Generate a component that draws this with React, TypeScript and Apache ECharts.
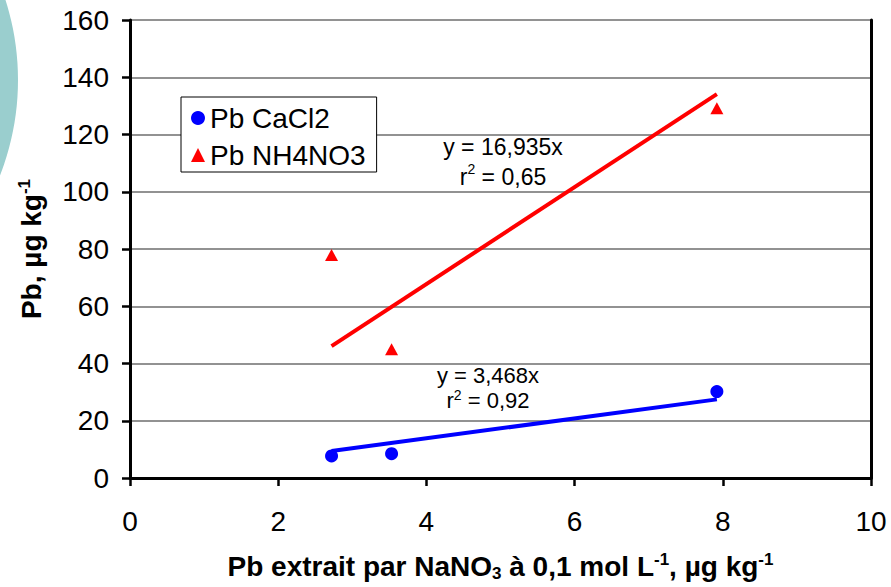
import React, { useEffect, useRef } from "react";
import * as echarts from "echarts";

// Measured data points (x: Pb extrait par NaNO3, y: Pb)
const xCaCl2 = [2.72, 3.53, 7.92];
const yCaCl2 = [7.7, 8.5, 30.2];
const xNH4NO3 = [2.72, 3.53, 7.92];
const yNH4NO3 = [77.9, 45.0, 129.2];

// Trend line slopes (y = a·x) as printed on the chart
const slopeCaCl2 = 3.468;
const slopeNH4NO3 = 16.935;

const seriesNames = ["Pb CaCl2", "Pb NH4NO3"];
const eqCaCl2 = ["y = 3,468x", "0,92"];
const eqNH4NO3 = ["y = 16,935x", "0,65"];

const FONT = "'Liberation Sans', Arial, Helvetica, sans-serif";

function trend(xs: number[], a: number): number[][] {
  const lo = Math.min(...xs);
  const hi = Math.max(...xs);
  return [
    [lo, a * lo],
    [hi, a * hi],
  ];
}

export default function App() {
  const ref = useRef<HTMLDivElement>(null);

  useEffect(() => {
    if (!ref.current) return;
    const chart = echarts.init(ref.current, undefined, { renderer: "svg" });

    const titleRich = (size: number) => ({
      b: { fontSize: size, fontWeight: "bold", fontFamily: FONT, color: "#000", lineHeight: size + 3 },
      sup: { fontSize: 17, fontWeight: "bold", fontFamily: FONT, color: "#000", lineHeight: 12, verticalAlign: "top" },
      sub: { fontSize: 17, fontWeight: "bold", fontFamily: FONT, color: "#000", lineHeight: 13, verticalAlign: "bottom" },
    });

    const eqRich = (color: string, lh: number, fs: number) => ({
      a: { fontSize: fs, fontFamily: FONT, color, lineHeight: lh },
      s: { fontSize: 14, fontFamily: FONT, color, lineHeight: 11, verticalAlign: "top" },
    });

    chart.setOption({
      animation: false,
      backgroundColor: "#ffffff",
      grid: { left: 130, top: 20, right: 20, bottom: 109, containLabel: false },
      xAxis: {
        type: "value",
        min: 0,
        max: 10,
        interval: 2,
        axisLine: { show: true, lineStyle: { color: "#000", width: 3 } },
        axisTick: { show: true, length: 8, lineStyle: { color: "#000", width: 2.5 } },
        axisLabel: { fontSize: 28, fontFamily: FONT, color: "#000", margin: 29 },
        splitLine: { show: false },
        name: "{b|Pb extrait par NaNO}{sub|3}{b| à 0,1 mol L}{sup|-1}{b|, µg kg}{sup|-1}",
        nameLocation: "middle",
        nameGap: 73,
        nameTextStyle: { rich: titleRich(28), fontSize: 28, fontWeight: "bold", fontFamily: FONT },
      },
      yAxis: [
        {
          type: "value",
          min: 0,
          max: 160,
          interval: 20,
          axisLine: { show: true, lineStyle: { color: "#000", width: 3 } },
          axisTick: { show: true, length: 8, lineStyle: { color: "#000", width: 2.5 } },
          axisLabel: { fontSize: 28, fontFamily: FONT, color: "#000", margin: 21 },
          splitLine: { show: true, lineStyle: { color: "#6e6e6e", width: 1.5 } },
          name: "{b|Pb, µg kg}{sup|-1}",
          nameLocation: "middle",
          nameRotate: 90,
          nameGap: 83,
          nameTextStyle: { rich: titleRich(28), fontSize: 28, fontWeight: "bold", fontFamily: FONT },
        },
        {
          type: "value",
          position: "right",
          min: 0,
          max: 160,
          interval: 20,
          axisLine: { show: true, onZero: false, lineStyle: { color: "#000", width: 3 } },
          axisTick: { show: false },
          axisLabel: { show: false },
          splitLine: { show: false },
        },
      ],
      legend: {
        data: seriesNames,
        orient: "vertical",
        left: 181,
        top: 97,
        itemWidth: 14,
        itemHeight: 14,
        itemGap: 9,
        padding: [7, 11, 3, 10],
        backgroundColor: "#fff",
        borderColor: "#000",
        borderWidth: 1,
        borderRadius: 0,
        textStyle: { fontSize: 28, fontFamily: FONT, color: "#000" },
      },
      graphic: [
        {
          type: "circle",
          shape: { cx: -244, cy: 80, r: 262 },
          style: { fill: "#9acece" },
          silent: true,
          z: -10,
        },
        {
          type: "text",
          x: 503,
          y: 132,
          style: {
            text: `{a|${eqNH4NO3[0]}}\n{a|r}{s|2}{a| = ${eqNH4NO3[1]}}`,
            rich: eqRich("#ff0000", 30, 23),
            align: "center",
            verticalAlign: "top",
          },
          z: 10,
        },
        {
          type: "text",
          x: 488,
          y: 363,
          style: {
            text: `{a|${eqCaCl2[0]}}\n{a|r}{s|2}{a| = ${eqCaCl2[1]}}`,
            rich: eqRich("#000000", 25, 22),
            align: "center",
            verticalAlign: "top",
          },
          z: 10,
        },
      ],
      series: [
        {
          name: "trend CaCl2",
          type: "line",
          data: trend(xCaCl2, slopeCaCl2),
          showSymbol: false,
          symbol: "none",
          lineStyle: { color: "#0000ff", width: 4 },
          z: 2,
        },
        {
          name: "trend NH4NO3",
          type: "line",
          data: trend(xNH4NO3, slopeNH4NO3),
          showSymbol: false,
          symbol: "none",
          lineStyle: { color: "#ff0000", width: 4 },
          z: 2,
        },
        {
          name: seriesNames[0],
          type: "scatter",
          data: xCaCl2.map((x, i) => [x, yCaCl2[i]]),
          symbol: "circle",
          symbolSize: 13,
          itemStyle: { color: "#0000ff", opacity: 1 },
          z: 3,
        },
        {
          name: seriesNames[1],
          type: "scatter",
          data: xNH4NO3.map((x, i) => [x, yNH4NO3[i]]),
          symbol: "triangle",
          symbolSize: [13, 12],
          itemStyle: { color: "#ff0000", opacity: 1 },
          z: 3,
        },
      ],
    });

    return () => chart.dispose();
  }, []);

  return (
    <div
      ref={ref}
      style={{ position: "absolute", left: 0, top: 0, width: 891, height: 587, background: "#fff" }}
    />
  );
}
